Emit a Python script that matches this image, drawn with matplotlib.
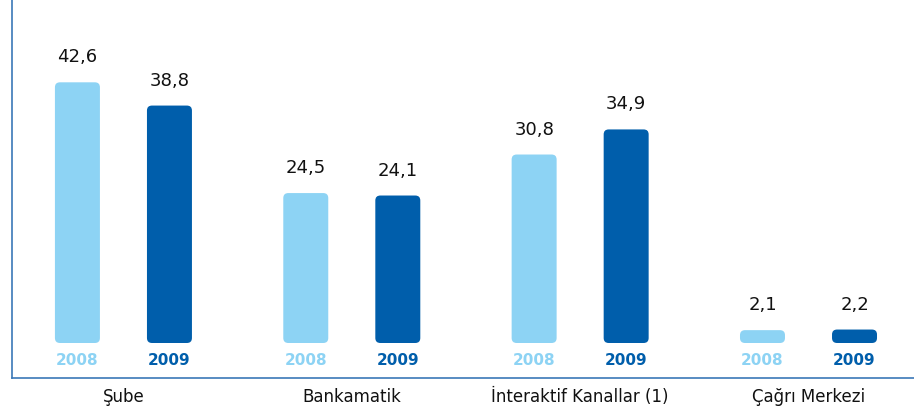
import matplotlib.pyplot as plt
from matplotlib.patches import FancyBboxPatch

categories = ['Şube', 'Bankamatik', 'İnteraktif Kanallar (1)', 'Çağrı Merkezi']
years = ['2008', '2009']
values_2008 = [42.6, 24.5, 30.8, 2.1]
values_2009 = [38.8, 24.1, 34.9, 2.2]

light = '#8dd3f4'
dark = '#005eab'
axis_color = '#3b78b8'

fig = plt.figure(figsize=(9.14, 4.07), dpi=100)
ax = fig.add_axes([12 / 914, 29 / 407, 902 / 914, 378 / 407])

ax.set_xlim(-0.488, 3.462)
ax.set_ylim(-5.72, 56.05)

offset = 0.2015
width = 0.197
r = 0.022
aspect = 37.0

for i, cat in enumerate(categories):
    for j, (vals, col, yr) in enumerate([(values_2008, light, years[0]),
                                         (values_2009, dark, years[1])]):
        x = i + (-offset if j == 0 else offset)
        v = vals[i]
        bar = FancyBboxPatch((x - width / 2, 0), width, v,
                             boxstyle=f"round,pad=0,rounding_size={r}",
                             mutation_aspect=aspect,
                             facecolor=col, edgecolor='none')
        ax.add_patch(bar)
        ax.annotate(f"{v:.1f}".replace('.', ','), (x, v),
                    xytext=(0, 14.4), textcoords='offset points',
                    ha='center', va='baseline', fontsize=13, color='#111111')
        ax.annotate(yr, (x, 0), xytext=(0, -16), textcoords='offset points',
                    ha='center', va='baseline', fontsize=11,
                    fontweight='bold', color=col)

ax.set_xticks(range(len(categories)))
ax.set_xticklabels(categories, fontsize=12, color='#111111')
ax.tick_params(axis='x', length=0, pad=7)
ax.set_yticks([])

for side in ['top', 'right']:
    ax.spines[side].set_visible(False)
for side in ['left', 'bottom']:
    ax.spines[side].set_color(axis_color)
    ax.spines[side].set_linewidth(1.2)

fig.savefig('out.png', dpi=100)
